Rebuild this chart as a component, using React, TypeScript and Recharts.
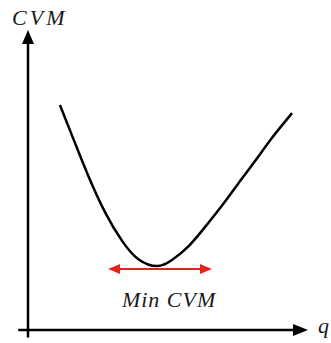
import { LineChart, Line, XAxis, YAxis, ReferenceLine, ReferenceDot } from 'recharts';

// curve (arbitrary units: q 0..10, CVM 0..10)
const qValues = [1.14, 1.68, 2.14, 2.75, 3.36, 3.93, 4.61, 5.14, 5.71, 6.32, 6.93, 7.5, 8.11, 8.71, 9.43];
const cvmValues = [7.5, 6.23, 5.17, 3.93, 2.97, 2.37, 2.13, 2.33, 2.77, 3.43, 4.15, 4.87, 5.63, 6.4, 7.23];

const minRange = [2.86, 6.57];
const minLevel = 2.03;

const axisLabels = { y: 'CVM', x: 'q', min: 'Min CVM' };

const data = qValues.map((q, i) => ({ q, cvm: cvmValues[i] }));

const SERIF = '"Times New Roman", "Liberation Serif", serif';

const XArrow = (props: any) => {
  const { x1, y1, x2, y2 } = props;
  return (
    <g>
      <line x1={x1} y1={y1} x2={x2 - 12} y2={y2} stroke="#000" strokeWidth={2.5} />
      <polygon points={`${x2},${y2} ${x2 - 15},${y2 - 6} ${x2 - 15},${y2 + 6}`} fill="#000" />
    </g>
  );
};

const YArrow = (props: any) => {
  const { x1, y1, x2, y2 } = props;
  const top = Math.min(y1, y2);
  const bottom = Math.max(y1, y2);
  return (
    <g>
      <line x1={x1} y1={bottom} x2={x2} y2={top + 10} stroke="#000" strokeWidth={2.5} />
      <polygon points={`${x1},${top} ${x1 - 6},${top + 14} ${x1 + 6},${top + 14}`} fill="#000" />
    </g>
  );
};

const RedArrow = (props: any) => {
  const { x1, y1, x2 } = props;
  const c = '#e3221f';
  return (
    <g>
      <line x1={x1 + 8} y1={y1} x2={x2 - 8} y2={y1} stroke={c} strokeWidth={2} />
      <polygon points={`${x1},${y1} ${x1 + 12},${y1 - 5} ${x1 + 12},${y1 + 5}`} fill={c} />
      <polygon points={`${x2},${y1} ${x2 - 12},${y1 - 5} ${x2 - 12},${y1 + 5}`} fill={c} />
    </g>
  );
};

const textShape = (text: string, size: number, anchor: string, spacing: number) =>
  (props: any) => (
    <text
      x={props.cx}
      y={props.cy}
      textAnchor={anchor}
      style={{ fontFamily: SERIF, fontStyle: 'italic', fontSize: size, letterSpacing: spacing }}
      fill="#1a1a1a"
    >
      {text}
    </text>
  );

export default function App() {
  return (
    <div style={{ position: 'absolute', left: 0, top: 0, background: '#fff' }}>
      <LineChart width={331} height={343} data={data} margin={{ top: 30, right: 23, bottom: 13, left: 28 }}>
        <XAxis dataKey="q" type="number" domain={[0, 10]} hide />
        <YAxis type="number" domain={[0, 10]} hide />
        <ReferenceLine
          segment={[{ x: -0.35, y: 0 }, { x: 10, y: 0 }]}
          ifOverflow="visible"
          shape={XArrow}
        />
        <ReferenceLine
          segment={[{ x: 0, y: -0.25 }, { x: 0, y: 10 }]}
          ifOverflow="visible"
          shape={YArrow}
        />
        <Line
          dataKey="cvm"
          type="natural"
          stroke="#000"
          strokeWidth={2.5}
          dot={false}
          isAnimationActive={false}
        />
        <ReferenceLine
          segment={[{ x: minRange[0], y: minLevel }, { x: minRange[1], y: minLevel }]}
          ifOverflow="visible"
          shape={RedArrow}
        />
        <ReferenceDot x={5.04} y={0.77} ifOverflow="visible" shape={textShape(axisLabels.min, 22, 'middle', 1)} />
        <ReferenceDot x={-0.57} y={10.17} ifOverflow="visible" shape={textShape(axisLabels.y, 22, 'start', 3)} />
        <ReferenceDot x={10.36} y={-0.1} ifOverflow="visible" shape={textShape(axisLabels.x, 22, 'start', 0)} />
      </LineChart>
    </div>
  );
}
